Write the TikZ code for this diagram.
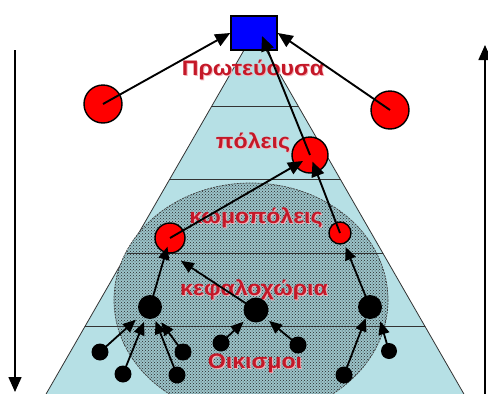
\documentclass[tikz,border=0pt]{standalone}
\usepackage{fontspec}
\setmainfont{Liberation Sans}
\usetikzlibrary{arrows.meta,calc,patterns}
\definecolor{pyr}{RGB}{182,224,229}
\definecolor{ellf}{RGB}{155,195,201}
\definecolor{lbl}{RGB}{196,24,40}
\definecolor{shd}{RGB}{246,178,186}
\newcommand{\wlab}[1]{\scalebox{1.1}[1]{#1}}
\begin{document}
\begin{tikzpicture}[x=1pt,y=-1pt,
  lab/.style={font=\bfseries\fontsize{21}{23}\selectfont, text=lbl, inner sep=0},
  labsh/.style={lab, text=shd},
  redc/.style={circle, fill=red, draw=black, line width=1.4pt, inner sep=0},
  blk/.style={circle, fill=black, inner sep=0},
  arr/.style={line width=1.9pt, -{Triangle[length=15pt,width=13pt]}},
  arrs/.style={line width=1.8pt, -{Triangle[length=13pt,width=11pt]}},
  divider/.style={line width=0.9pt, black!80}]
\useasboundingbox (0,0) rectangle (488,394);
\clip (0,0) rectangle (488,394);
\fill[white] (0,0) rectangle (488,394);
% pyramid
\path[fill=pyr, draw=black!80, line width=0.8pt] (255,31) -- (34,415) -- (476,415) -- cycle;
% settlement ellipse
\path[fill=ellf] (251,300) ellipse [x radius=137, y radius=117];
\path[pattern=crosshatch dots, pattern color=black!85] (251,300) ellipse [x radius=137, y radius=117];
\draw[black!75, line width=0.7pt, dash pattern=on 2pt off 1pt] (251,300) ellipse [x radius=137, y radius=117];
% dividers
\begin{scope}
  \clip (255,31) -- (34,415) -- (476,415) -- cycle;
  \foreach \yy in {106,179,253,326} \draw[divider] (0,\yy) -- (488,\yy);
\end{scope}
% labels
\node[labsh] (t1s) at (254,71) {\wlab{Πρωτεύουσα}};
\node[lab]   (t1)  at (253,70) {\wlab{Πρωτεύουσα}};
\node[labsh] (t2s) at (254,144) {\wlab{πόλεις}};
\node[lab]   (t2)  at (253,143) {\wlab{πόλεις}};
\node[labsh] (t3s) at (257,219) {\wlab{κωμοπόλεις}};
\node[lab]   (t3)  at (256,218) {\wlab{κωμοπόλεις}};
\node[labsh] (t4s) at (255,291) {\wlab{κεφαλοχώρια}};
\node[lab]   (t4)  at (254,290) {\wlab{κεφαλοχώρια}};
\node[labsh] (t5s) at (256,364) {\wlab{Οικισμοι}};
\node[lab]   (t5)  at (255,363) {\wlab{Οικισμοι}};
% capital
\node[draw=black, fill=blue, line width=1.5pt, minimum width=46pt, minimum height=34pt, inner sep=0] (sq) at (254,33) {};
% red circles
\node[redc, minimum size=38pt] (r1) at (103,104) {};
\node[redc, minimum size=38pt] (r2) at (390,110) {};
\node[redc, minimum size=36pt] (mid) at (310,155) {};
\node[redc, minimum size=30pt] (kl) at (170,238) {};
\node[redc, minimum size=22pt] (kr) at (340,233) {};
% black circles
\node[blk, minimum size=24pt] (bl) at (150,307) {};
\node[blk, minimum size=25pt] (bm) at (256,310) {};
\node[blk, minimum size=24pt] (br) at (370,307) {};
\node[blk, minimum size=17pt] (s1) at (100,352) {};
\node[blk, minimum size=17pt] (s2) at (123,374) {};
\node[blk, minimum size=17pt] (s3) at (177,375) {};
\node[blk, minimum size=17pt] (s4) at (183,352) {};
\node[blk, minimum size=17pt] (s5) at (221,343) {};
\node[blk, minimum size=17pt] (s6) at (298,345) {};
\node[blk, minimum size=17pt] (s7) at (344,375) {};
\node[blk, minimum size=16pt] (s8) at (389,351) {};
% arrows to capital
\draw[arr] (r1.center) -- (sq.west);
\draw[arr] (r2.center) -- (sq.east);
\draw[arr] (mid.center) -- ($(sq.center)+(8,3)$);
% arrows to city
\draw[arr] (kl.center) -- ($(mid.center)+(-7,6)$);
\draw[arr, shorten >=7pt] (kr.center) -- (mid.center);
% arrows to towns
\draw[arrs, shorten >=9pt] (bl.center) -- (kl.center);
\draw[arrs, shorten >=13pt] (bm.center) -- (kl.south);
\draw[arrs, shorten >=15pt] (br.center) -- (kr.center);
% arrows to main villages
\draw[arrs, shorten >=19pt] (s1.center) -- (bl.center);
\draw[arrs, shorten >=16pt] (s2.center) -- (bl.center);
\draw[arrs, shorten >=15pt] (s3.center) -- (bl.center);
\draw[arrs, shorten >=19pt] (s4.center) -- (bl.center);
\draw[arrs, shorten >=17pt] (s5.center) -- (bm.center);
\draw[arrs, shorten >=17pt] (s6.center) -- (bm.center);
\draw[arrs, shorten >=12pt] (s7.center) -- (br.center);
\draw[arrs, shorten >=6pt] (s8.center) -- (br.south east);
% side arrows
\coordinate (lt) at (15,50);
\coordinate (lb) at (15,392);
\coordinate (rb) at (485,394);
\coordinate (rt) at (485,45);
\draw[arr, line width=1.6pt] (lt) -- (lb);
\draw[arr, line width=1.6pt] (rb) -- (rt);
\end{tikzpicture}
\end{document}
